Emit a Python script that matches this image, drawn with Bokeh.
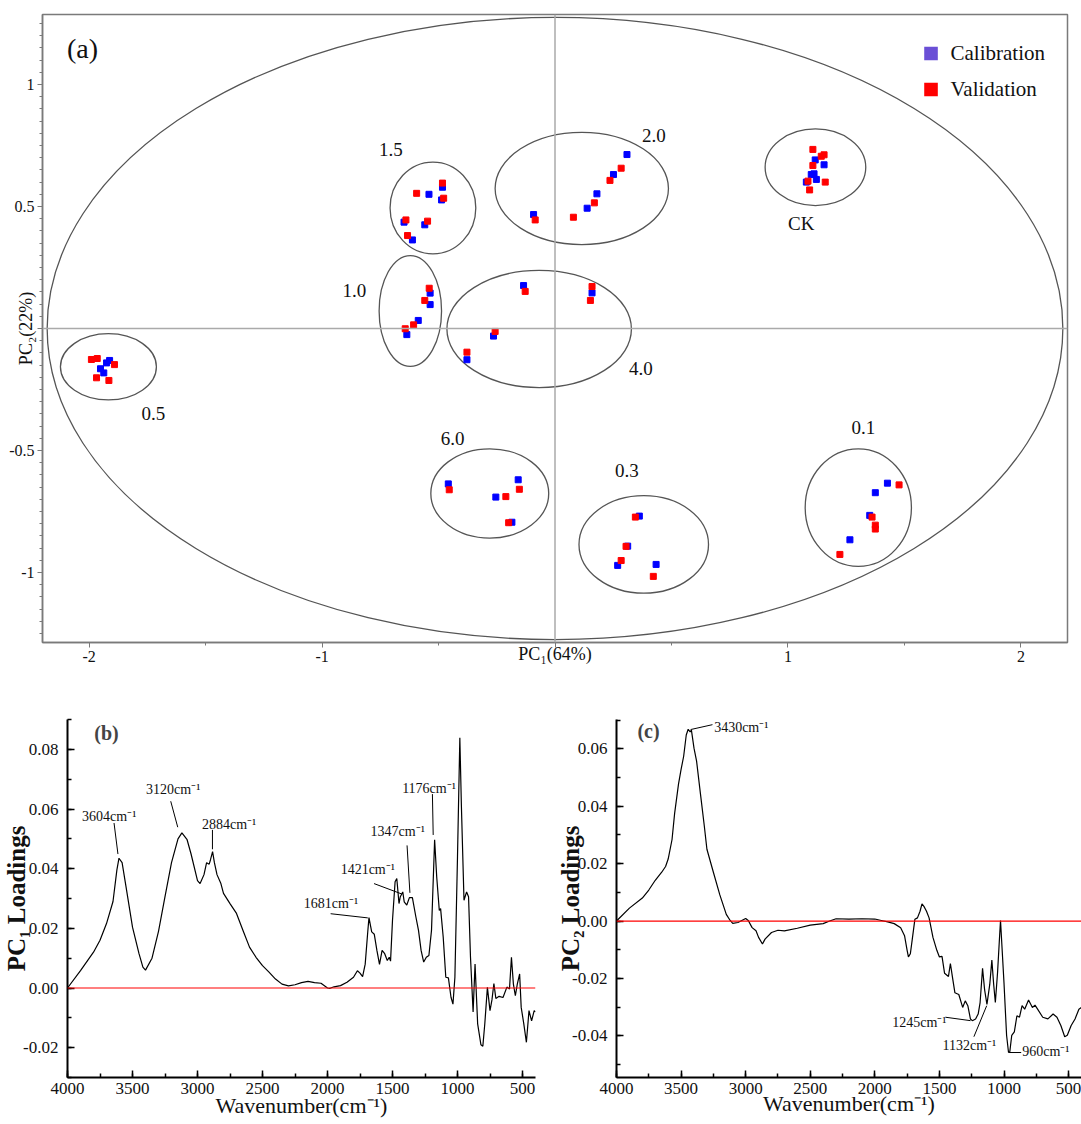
import numpy as np
from bokeh.plotting import figure
from bokeh.models import Range1d, FixedTicker, Span, Label, Legend, LegendItem, NumeralTickFormatter
from bokeh.layouts import column, row
from bokeh.embed import file_html
from bokeh.resources import INLINE
from bokeh.core.properties import value

SERIF = "Liberation Serif"

# ---------------- Panel (a): PCA scores ----------------
cal_x = [-1.912, -1.925, -1.951, -1.937,
         -0.536, -0.536, -0.587, -0.636,
         -0.541, -0.483, -0.487, -0.648, -0.559, -0.612,
         0.309, 0.251, 0.180, 0.138, -0.092,
         -0.135, 0.159, -0.264, -0.378,
         1.117, 1.155, 1.100, 1.112, 1.122, 1.079,
         -0.458, -0.158, -0.254, -0.185,
         0.362, 0.312, 0.269, 0.434,
         1.427, 1.375, 1.351, 1.266]
cal_y = [-0.131, -0.141, -0.165, -0.182,
         0.145, 0.098, 0.033, -0.025,
         0.550, 0.579, 0.527, 0.436, 0.425, 0.363,
         0.713, 0.631, 0.552, 0.493, 0.467,
         0.176, 0.146, -0.031, -0.128,
         0.691, 0.671, 0.631, 0.634, 0.611, 0.600,
         -0.637, -0.620, -0.691, -0.794,
         -0.769, -0.892, -0.971, -0.967,
         -0.634, -0.673, -0.766, -0.866]
val_x = [-1.990, -1.965, -1.891, -1.968, -1.915,
         -0.540, -0.559, -0.607, -0.643,
         -0.594, -0.483, -0.478, -0.640, -0.547, -0.633,
         0.284, 0.236, 0.169, 0.079, -0.085,
         -0.128, 0.159, 0.152, -0.257, -0.378,
         1.107, 1.143, 1.155, 1.107, 1.086, 1.160, 1.093,
         -0.454, -0.153, -0.211, -0.199,
         0.345, 0.305, 0.284, 0.422,
         1.477, 1.361, 1.375, 1.375, 1.223]
val_y = [-0.127, -0.123, -0.148, -0.202, -0.213,
         0.165, 0.115, 0.015, -0.001,
         0.554, 0.596, 0.534, 0.445, 0.440, 0.381,
         0.657, 0.607, 0.515, 0.456, 0.445,
         0.152, 0.172, 0.115, -0.012, -0.097,
         0.734, 0.706, 0.712, 0.668, 0.604, 0.600, 0.568,
         -0.661, -0.659, -0.689, -0.796,
         -0.773, -0.893, -0.951, -1.016,
         -0.641, -0.773, -0.806, -0.822, -0.926]

group_names = ["0.5", "1.0", "1.5", "2.0", "4.0", "CK", "6.0", "0.3", "0.1"]
group_cx = [-1.917, -0.621, -0.524, 0.115, -0.068, 1.118, -0.280, 0.381, 1.302]
group_cy = [-0.157, 0.072, 0.494, 0.574, -0.002, 0.661, -0.676, -0.885, -0.734]
group_rx = [0.206, 0.134, 0.184, 0.372, 0.396, 0.216, 0.253, 0.278, 0.228]
group_ry = [0.136, 0.227, 0.188, 0.230, 0.240, 0.157, 0.183, 0.200, 0.241]
label_x = [-1.724, -0.861, -0.705, 0.424, 0.369, 1.057, -0.439, 0.309, 1.324]
label_y = [-0.350, 0.156, 0.732, 0.791, -0.165, 0.429, -0.452, -0.582, -0.407]

big_rx, big_ry = 2.18, 1.275
legend_labels = ["Calibration", "Validation"]
legend_colors = ["#6a4fd6", "#ff0000"]

# ---------------- Panel (b): PC1 loadings ----------------
wn_b = [4000, 3900, 3800, 3750, 3700, 3650, 3620, 3604, 3580, 3550, 3500, 3450, 3420, 3400, 3350,
        3300, 3250, 3200, 3150, 3120, 3080, 3050, 3000, 2980, 2950, 2930, 2910, 2900, 2884, 2870,
        2850, 2820, 2800, 2750, 2700, 2650, 2600, 2550, 2500, 2450, 2400, 2350, 2300, 2250, 2200,
        2150, 2100, 2050, 2000, 1980, 1950, 1900, 1850, 1800, 1770, 1750, 1730, 1710, 1690, 1681,
        1660, 1640, 1620, 1600, 1580, 1560, 1540, 1525, 1515, 1500, 1480, 1467, 1450, 1440, 1421,
        1410, 1390, 1370, 1347, 1320, 1300, 1280, 1260, 1240, 1220, 1200, 1176, 1160, 1140, 1130,
        1110, 1090, 1070, 1050, 1035, 1020, 1000, 982, 970, 950, 930, 915, 900, 880, 865,
        845, 820, 805, 790, 770, 750, 735, 720, 705, 680, 650, 620, 600, 585, 570,
        555, 540, 522, 510, 490, 470, 450, 430, 410, 400]
ld_b = [0.0, 0.0058, 0.012, 0.016, 0.0216, 0.029, 0.0396, 0.0435, 0.042, 0.034, 0.0204, 0.0115, 0.007, 0.006, 0.010,
        0.019, 0.0306, 0.042, 0.050, 0.052, 0.0497, 0.045, 0.036, 0.035, 0.038, 0.042, 0.0415, 0.043, 0.0457, 0.042,
        0.038, 0.035, 0.0317, 0.0283, 0.025, 0.0193, 0.0137, 0.0103, 0.0075, 0.0053, 0.003, 0.0013, 0.0007, 0.0011, 0.0018,
        0.0022, 0.0018, 0.0016, 0.0, -0.0001, 0.0004, 0.0008, 0.0019, 0.0036, 0.0058, 0.005, 0.0038, 0.008, 0.019, 0.0236,
        0.0188, 0.018, 0.0126, 0.0079, 0.0126, 0.0115, 0.0092, 0.0103, 0.009, 0.0227, 0.0356, 0.0367, 0.0283, 0.0306, 0.0322,
        0.0289, 0.0278, 0.0303, 0.0303, 0.0238, 0.0193, 0.0126, 0.0087, 0.0103, 0.0109, 0.0193, 0.0497, 0.0373, 0.026, 0.0266,
        0.0171, 0.0036, 0.0034, -0.0031, -0.0054, 0.0036, 0.044, 0.0839, 0.061, 0.0294, 0.0322, 0.0306, 0.0103, -0.008, 0.008,
        -0.012, -0.019, -0.0195, -0.012, 0.0002, -0.0076, -0.004, 0.0015, -0.0035, -0.0028, -0.0032, 0.0003, -0.0003, 0.0103, 0.0013,
        -0.0026, 0.0013, 0.0047, -0.0065, -0.012, -0.0182, -0.0076, -0.011, -0.0076, -0.008]

ann_b_text = ["3604cm⁻¹", "3120cm⁻¹", "2884cm⁻¹", "1681cm⁻¹", "1421cm⁻¹", "1347cm⁻¹", "1176cm⁻¹"]
ann_b_tx = [3679, 3187, 2757, 1973, 1690, 1460, 1219]
ann_b_ty = [0.0575, 0.0667, 0.0547, 0.0283, 0.0396, 0.0525, 0.067]
ann_b_x0 = [3642, 3206, 2885, 1976, 1642, 1388, 1193]
ann_b_y0 = [0.0553, 0.0626, 0.053, 0.0249, 0.035, 0.0478, 0.065]
ann_b_x1 = [3612, 3152, 2885, 1690, 1428, 1366, 1187]
ann_b_y1 = [0.0449, 0.0539, 0.0465, 0.0235, 0.0315, 0.0319, 0.0513]

# ---------------- Panel (c): PC2 loadings ----------------
wn_c = [4000, 3900, 3800, 3750, 3700, 3650, 3620, 3600, 3570, 3550,
        3520, 3500, 3480, 3460, 3445, 3430, 3420, 3400, 3380, 3350,
        3320, 3300, 3250, 3200, 3150, 3120, 3100, 3060, 3030, 3000,
        2980, 2950, 2920, 2900, 2870, 2850, 2800, 2750, 2700, 2600,
        2500, 2400, 2350, 2300, 2200, 2100, 2000, 1950, 1900, 1850,
        1800, 1770, 1750, 1740, 1725, 1710, 1690, 1670, 1650, 1635,
        1620, 1600, 1580, 1550, 1520, 1500, 1480, 1460, 1430, 1415,
        1400, 1380, 1350, 1320, 1300, 1280, 1260, 1245, 1220, 1200,
        1185, 1166, 1150, 1132, 1110, 1094, 1080, 1067, 1050, 1035,
        1027, 1000, 980, 965, 955, 940, 920, 900, 880, 860,
        840, 810, 780, 760, 740, 700, 660, 620, 590, 560,
        530, 510, 480, 450, 420, 400]
ld_c = [0.0, 0.0045, 0.008, 0.0108, 0.0142, 0.017, 0.019, 0.0216, 0.0284, 0.0375,
        0.0477, 0.0528, 0.0574, 0.0648, 0.0668, 0.0659, 0.0665, 0.0602, 0.0557, 0.0443,
        0.033, 0.025, 0.017, 0.0091, 0.0023, 0.0002, -0.0008, -0.0005, 0.0002, 0.0009,
        0.0002, -0.0023, -0.0034, -0.0057, -0.008, -0.0063, -0.004, -0.0032, -0.0034, -0.0025,
        -0.0014, -0.0009, 0.0, 0.0008, 0.0007, 0.0008, 0.0007, 0.0002, -0.0003, -0.0009,
        -0.0023, -0.0051, -0.0102, -0.0125, -0.0114, -0.0063, 0.0006, 0.0011, 0.0034, 0.006,
        0.0051, 0.0034, 0.0011, -0.0057, -0.0102, -0.0125, -0.0123, -0.0182, -0.0193, -0.0148,
        -0.0193, -0.025, -0.0256, -0.0301, -0.0278, -0.0295, -0.0341, -0.0347, -0.0341, -0.0324,
        -0.0284, -0.0165, -0.024, -0.029, -0.022, -0.0136, -0.022, -0.0284, -0.018, -0.006,
        0.0002, -0.0216, -0.0398, -0.0458, -0.0455, -0.0398, -0.0386, -0.033, -0.0335, -0.0295,
        -0.0307, -0.0275, -0.0301, -0.0293, -0.0307, -0.0335, -0.0341, -0.0324, -0.0335, -0.0364,
        -0.0403, -0.0398, -0.0364, -0.0341, -0.0307, -0.0301]

ann_c_text = ["3430cm⁻¹", "1245cm⁻¹", "1132cm⁻¹", "960cm⁻¹"]
ann_c_tx = [3244, 1655, 1268, 859]
ann_c_ty = [0.0674, -0.0352, -0.0434, -0.0455]
ann_c_align = ["left", "center", "center", "left"]
ann_c_x0 = [3257, 1454, 1233, 867]
ann_c_y0 = [0.0684, -0.0335, -0.0403, -0.0458]
ann_c_x1 = [3426, 1259, 1134, 961]
ann_c_y1 = [0.0667, -0.0347, -0.0295, -0.0458]

wn_ticks = [4000, 3500, 3000, 2500, 2000, 1500, 1000, 500]

# ================= figure (a) =================
GRAY = "#7a7a7a"
pa = figure(width=1081, height=690, x_range=Range1d(-2.2, 2.2), y_range=Range1d(-1.287, 1.287),
            output_backend="svg", toolbar_location=None,
            min_border_left=42, min_border_right=14, min_border_top=14, min_border_bottom=48)
pa.grid.visible = False
pa.outline_line_color = GRAY
pa.outline_line_width = 1.5
pa.xaxis.ticker = FixedTicker(ticks=[-2, -1, 0, 1, 2], minor_ticks=list(np.arange(-2.0, 2.01, 0.5)))
pa.yaxis.ticker = FixedTicker(ticks=[-1, -0.5, 0, 0.5, 1],
                              minor_ticks=[round(v, 2) for v in np.arange(-1.25, 1.2501, 0.05)])
pa.xaxis.major_label_overrides = {-2: "-2", -1: "-1", 0: "", 1: "1", 2: "2"}
pa.yaxis.major_label_overrides = {-1: "-1", -0.5: "-0.5", 0: "", 0.5: "0.5", 1: "1"}
for ax in (pa.xaxis[0], pa.yaxis[0]):
    ax.axis_line_color = GRAY
    ax.axis_line_width = 1.5
    ax.major_tick_line_color = GRAY
    ax.minor_tick_line_color = GRAY
    ax.major_tick_in = 0
    ax.major_tick_out = 5
    ax.minor_tick_in = 0
    ax.minor_tick_out = 3
    ax.major_label_text_font = SERIF
    ax.major_label_text_font_size = "16px"
    ax.major_label_text_color = "#111111"
    ax.major_label_standoff = 3
    ax.axis_label_text_font = SERIF
    ax.axis_label_text_font_size = "18px"
    ax.axis_label_text_font_style = "normal"
    ax.axis_label_text_color = "#111111"
pa.xaxis.axis_label = "PC₁(64%)"
pa.xaxis.axis_label_standoff = -21
pa.yaxis.axis_label = "PC₂(22%)"
pa.yaxis.axis_label_standoff = -30

pa.add_layout(Span(location=0, dimension="height", line_color="#aaaaaa", line_width=1.5))
pa.add_layout(Span(location=0, dimension="width", line_color="#aaaaaa", line_width=1.5))

pa.ellipse(x=[0], y=[0], width=[2 * big_rx], height=[2 * big_ry], fill_color=None,
           line_color="#555555", line_width=1.3)
pa.ellipse(x=group_cx, y=group_cy, width=[2 * r for r in group_rx], height=[2 * r for r in group_ry],
           fill_color=None, line_color="#555555", line_width=1.3)
pa.scatter(cal_x, cal_y, marker="square", size=6, fill_color="#0000ff", line_color="#0000ff")
pa.scatter(val_x, val_y, marker="square", size=6, fill_color="#ff0000", line_color="#ff0000")
pa.text(x=label_x, y=label_y, text=group_names, text_font=value(SERIF), text_font_size="19px",
        text_align="center", text_baseline="middle", text_color="#111111")
pa.text(x=[-2.028], y=[1.148], text=["(a)"], text_font=value(SERIF), text_font_size="28px",
        text_align="center", text_baseline="middle", text_color="#111111")

# legend swatches (renderers without visible points; only their legend glyph is shown)
leg_items = []
for lab, col in zip(legend_labels, legend_colors):
    r = pa.scatter(x=np.array([np.nan]), y=np.array([np.nan]), marker="square", size=14,
                   fill_color=col, line_color=None)
    leg_items.append(LegendItem(label=lab, renderers=[r]))
legend = Legend(items=leg_items, location="top_right", margin=22, padding=0, spacing=2,
                glyph_width=34, glyph_height=34, label_standoff=3,
                label_text_font=SERIF, label_text_font_size="21px", label_text_color="#111111",
                border_line_color=None, background_fill_alpha=0)
pa.add_layout(legend)


def style_spectrum(p, yticks, yminor, ylabel, ylab_standoff, xlab_standoff):
    p.grid.visible = False
    p.outline_line_color = None
    p.xaxis.ticker = FixedTicker(ticks=wn_ticks, minor_ticks=list(range(500, 4001, 250)))
    p.yaxis.ticker = FixedTicker(ticks=yticks, minor_ticks=yminor)
    p.yaxis.formatter = NumeralTickFormatter(format="0.00")
    for ax in (p.xaxis[0], p.yaxis[0]):
        ax.axis_line_color = "black"
        ax.axis_line_width = 2
        ax.major_tick_line_color = "black"
        ax.major_tick_line_width = 1.5
        ax.minor_tick_line_color = "black"
        ax.minor_tick_line_width = 1.5
        ax.major_tick_in = 7
        ax.major_tick_out = 0
        ax.minor_tick_in = 4
        ax.minor_tick_out = 0
        ax.major_label_text_font = SERIF
        ax.major_label_text_font_size = "17px"
        ax.major_label_text_color = "#111111"
        ax.axis_label_text_font = SERIF
        ax.axis_label_text_color = "#111111"
    p.xaxis.major_label_standoff = 5
    p.yaxis.major_label_standoff = 9
    p.xaxis.axis_label = "Wavenumber(cm⁻¹)"
    p.xaxis.axis_label_text_font_size = "22px"
    p.xaxis.axis_label_text_font_style = "normal"
    p.xaxis.axis_label_standoff = xlab_standoff
    p.yaxis.axis_label = ylabel
    p.yaxis.axis_label_text_font_size = "25px"
    p.yaxis.axis_label_text_font_style = "bold"
    p.yaxis.axis_label_standoff = ylab_standoff
    p.add_layout(Span(location=0, dimension="width", line_color="#ff0000", line_width=1.2))


# ================= figure (b) =================
pb = figure(width=540, height=434, x_range=Range1d(4000, 400), y_range=Range1d(-0.03, 0.09),
            output_backend="svg", toolbar_location=None,
            min_border_left=65, min_border_right=5, min_border_top=29, min_border_bottom=47)
style_spectrum(pb, [-0.02, 0.0, 0.02, 0.04, 0.06, 0.08],
               [round(v, 2) for v in np.arange(-0.03, 0.0901, 0.01)], "PC₁ Loadings", -10, -4)
pb.line(wn_b, ld_b, line_color="black", line_width=1.2)
pb.segment(x0=ann_b_x0, y0=ann_b_y0, x1=ann_b_x1, y1=ann_b_y1, line_color="black", line_width=1)
pb.text(x=ann_b_tx, y=ann_b_ty, text=ann_b_text, text_font=value(SERIF), text_font_size="14px",
        text_align="center", text_baseline="middle", text_color="#111111")
pb.add_layout(Label(x=3700, y=0.0856, text="(b)", text_font=SERIF, text_font_size="20px",
                    text_font_style="bold", text_align="center", text_baseline="middle"))

# ================= figure (c) =================
pc = figure(width=541, height=434, x_range=Range1d(4000, 400), y_range=Range1d(-0.0545, 0.0702),
            output_backend="svg", toolbar_location=None,
            min_border_left=76, min_border_right=0, min_border_top=24, min_border_bottom=44)
style_spectrum(pc, [-0.04, -0.02, 0.0, 0.02, 0.04, 0.06],
               [round(v, 2) for v in np.arange(-0.05, 0.0701, 0.01)], "PC₂ Loadings", -15, -6)
pc.line(wn_c, ld_c, line_color="black", line_width=1.2)
pc.segment(x0=ann_c_x0, y0=ann_c_y0, x1=ann_c_x1, y1=ann_c_y1, line_color="black", line_width=1)
pc.text(x=ann_c_tx, y=ann_c_ty, text=ann_c_text, text_font=value(SERIF), text_font_size="14px",
        text_align=ann_c_align, text_baseline="middle", text_color="#111111")
pc.add_layout(Label(x=3752, y=0.0700, text="(c)", text_font=SERIF, text_font_size="20px",
                    text_font_style="bold", text_align="center", text_baseline="top"))

layout = column(pa, row(pb, pc))
open("out.html", "w").write(file_html(layout, INLINE))
